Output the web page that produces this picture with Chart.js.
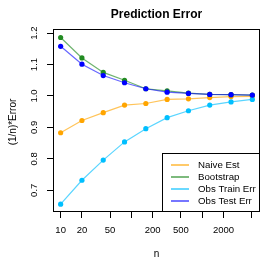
<!DOCTYPE html>
<html lang="en">
<head>
<meta charset="UTF-8" />
<title>Prediction Error</title>
<script src="https://cdn.jsdelivr.net/npm/chart.js"></script>
<style>
  html, body { margin: 0; padding: 0; background: #fff; }
  #wrap { width: 266px; height: 266px; }
</style>
</head>
<body>
<div id="wrap"><canvas id="chart" width="266" height="266"></canvas></div>
<script>
// data
const nValues = [10, 20, 40, 80, 160, 320, 640, 1280, 2560, 5120];
const naiveEst = [0.883, 0.922, 0.947, 0.971, 0.976, 0.989, 0.991, 0.995, 0.998, 0.999];
const bootstrap = [1.186, 1.121, 1.075, 1.050, 1.023, 1.016, 1.009, 1.005, 1.004, 1.003];
const obsTrain = [0.656, 0.732, 0.796, 0.854, 0.896, 0.931, 0.953, 0.971, 0.981, 0.989];
const obsTest = [1.158, 1.101, 1.065, 1.042, 1.023, 1.012, 1.008, 1.005, 1.004, 1.003];
const xTicks = [10, 20, 50, 100, 200, 500, 1000, 2000, 5000];
const xTickLabels = ['10', '20', '50', '', '200', '500', '', '2000', ''];
const yTicks = [0.7, 0.8, 0.9, 1.0, 1.1, 1.2];
const legendNames = ['Naive Est', 'Bootstrap', 'Obs Train Err', 'Obs Test Err'];

const lineCols = ['rgba(255,165,0,0.65)', 'rgba(34,139,34,0.65)', 'rgba(0,191,255,0.65)', 'rgba(0,0,255,0.6)'];
const pointCols = ['#FFA500', '#228B22', '#00BFFF', '#0000FF'];
const FONT = 'Liberation Sans, Arial, sans-serif';

function series(vals, i, order) {
    return {
        label: legendNames[i],
        data: nValues.map((n, k) => ({ x: n, y: vals[k] })),
        borderColor: lineCols[i],
        borderWidth: 1.2,
        pointRadius: 2.6,
        pointBackgroundColor: pointCols[i],
        pointBorderWidth: 0,
        tension: 0,
        order: order
    };
}

// R-like box, rotated y labels, titles and legend
const rStyle = {
    id: 'rStyle',
    afterDraw(chart) {
        const ctx = chart.ctx;
        const a = chart.chartArea;
        const ys = chart.scales.y;
        ctx.save();
        ctx.strokeStyle = '#000';
        ctx.lineWidth = 1;
        ctx.strokeRect(a.left + 0.5, a.top + 0.5, a.right - a.left - 1, a.bottom - a.top - 1);

        ctx.fillStyle = '#000';
        ctx.font = '9.5px ' + FONT;
        ctx.textAlign = 'center';
        ctx.textBaseline = 'middle';
        yTicks.forEach(v => {
            ctx.save();
            ctx.translate(34, ys.getPixelForValue(v));
            ctx.rotate(-Math.PI / 2);
            ctx.fillText(v.toFixed(1), 0, 0);
            ctx.restore();
        });

        const cx = (a.left + a.right) / 2;
        const cy = (a.top + a.bottom) / 2;
        ctx.font = '10px ' + FONT;
        ctx.save();
        ctx.translate(13, cy + 1.5);
        ctx.rotate(-Math.PI / 2);
        ctx.fillText('(1/n)*Error', 0, 0);
        ctx.restore();
        ctx.fillText('n', cx, 254.5);

        ctx.font = 'bold 12px ' + FONT;
        ctx.fillText('Prediction Error', cx, 15);

        // legend
        const lx = 162, ly = 153;
        ctx.fillStyle = '#fff';
        ctx.fillRect(lx, ly, a.right - lx, a.bottom - ly);
        ctx.strokeStyle = '#000';
        ctx.strokeRect(lx + 0.5, ly + 0.5, a.right - lx - 1, a.bottom - ly - 1);
        ctx.font = '9.7px ' + FONT;
        ctx.textAlign = 'left';
        legendNames.forEach((name, i) => {
            const y = 165 + i * 12;
            ctx.strokeStyle = lineCols[i];
            ctx.lineWidth = 1.8;
            ctx.beginPath();
            ctx.moveTo(171, y);
            ctx.lineTo(189, y);
            ctx.stroke();
            ctx.fillStyle = '#000';
            ctx.fillText(name, 198, y);
        });
        ctx.restore();
    }
};

new Chart(document.getElementById('chart'), {
    type: 'line',
    data: {
        datasets: [
            series(naiveEst, 0, 3),
            series(bootstrap, 1, 2),
            series(obsTrain, 2, 1),
            series(obsTest, 3, 0)
        ]
    },
    options: {
        responsive: false,
        animation: false,
        layout: { padding: { left: 33, top: 29, right: 6, bottom: 0 } },
        plugins: { legend: { display: false }, tooltip: { enabled: false } },
        scales: {
            x: {
                type: 'logarithmic',
                min: 7.8,
                max: 6570,
                border: { display: false },
                grid: { drawOnChartArea: false, drawTicks: true, tickLength: 6, color: '#000' },
                ticks: {
                    autoSkip: false,
                    maxRotation: 0,
                    padding: 7,
                    color: '#000',
                    font: { family: FONT, size: 9.5 },
                    callback: (v) => { const i = xTicks.indexOf(v); return i >= 0 ? xTickLabels[i] : ''; }
                },
                afterBuildTicks: (s) => { s.ticks = xTicks.map(v => ({ value: v })); },
                afterFit: (s) => { s.height = 54; }
            },
            y: {
                min: 0.631,
                max: 1.213,
                border: { display: false },
                grid: { drawOnChartArea: false, drawTicks: true, tickLength: 6, color: '#000' },
                ticks: { display: false },
                afterBuildTicks: (s) => { s.ticks = yTicks.map(v => ({ value: v })); },
                afterFit: (s) => { s.width = 20; }
            }
        }
    },
    plugins: [rStyle]
});
</script>
</body>
</html>
